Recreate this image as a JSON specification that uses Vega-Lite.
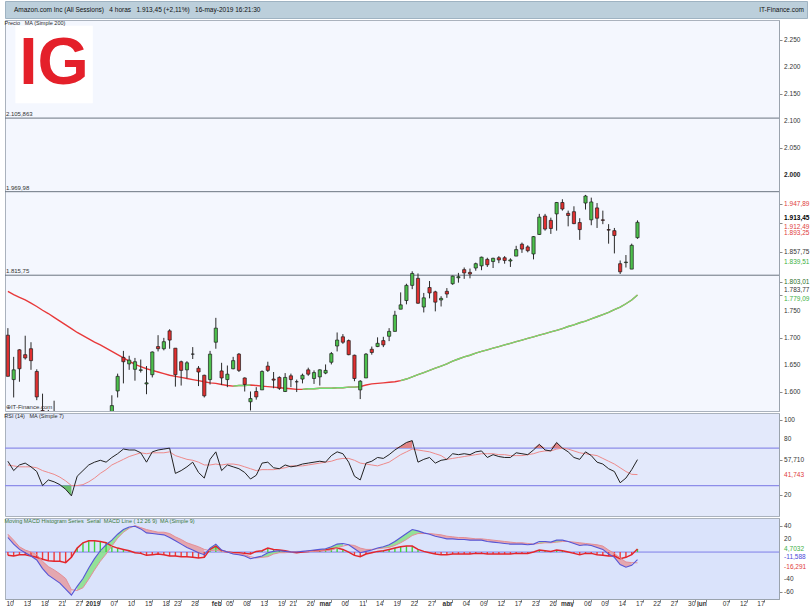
{
"$schema":"https://vega.github.io/schema/vega-lite/v6.json",
"background":"white",
"padding":{"left":3,"top":0,"right":0,"bottom":0},
"spacing":0,
"config":{"font":"Liberation Sans","view":{"stroke":"#aab2bd"},"axis":{"labelFont":"Liberation Sans","labelFontSize":6.5,"labelColor":"#333","tickColor":"#8a8a8a","domainColor":"#9aa3ad","tickSize":3,"labelPadding":2,"grid":false},"title":{"font":"Liberation Sans","fontWeight":"normal","fontSize":5.5,"anchor":"start","offset":-6,"color":"#2a2a2a"}},
"datasets":{
"bars":[
{"d":"2018-12-07","o":1705,"hi":1718,"lo":1629,"c":1629,"ma":1786,"mg":null,"rsi":56,"rma":52,"macd":22,"sig":27,"hist":-5,"seg":1},
{"d":"2018-12-10","o":1623,"hi":1665,"lo":1590,"c":1641,"ma":1780,"mg":null,"rsi":46,"rma":51,"macd":12,"sig":18,"hist":-6,"seg":1},
{"d":"2018-12-11","o":1678,"hi":1679,"lo":1619,"c":1643,"ma":1775,"mg":null,"rsi":52,"rma":50,"macd":4,"sig":8,"hist":-4,"seg":1},
{"d":"2018-12-12","o":1669,"hi":1704,"lo":1660,"c":1663,"ma":1770,"mg":null,"rsi":54,"rma":50,"macd":-1,"sig":3,"hist":-4,"seg":1},
{"d":"2018-12-13","o":1680,"hi":1692,"lo":1641,"c":1658,"ma":1764,"mg":null,"rsi":50,"rma":50,"macd":-6,"sig":0,"hist":-6,"seg":1},
{"d":"2018-12-14","o":1638,"hi":1642,"lo":1585,"c":1591,"ma":1758,"mg":null,"rsi":45,"rma":49,"macd":-12,"sig":-4,"hist":-8,"seg":1},
{"d":"2018-12-17","o":1566,"hi":1597,"lo":1503,"c":1520,"ma":1751,"mg":null,"rsi":30,"rma":46,"macd":-25,"sig":-14,"hist":-11,"seg":1},
{"d":"2018-12-18","o":1541,"hi":1567,"lo":1523,"c":1551,"ma":1745,"mg":null,"rsi":36,"rma":44,"macd":-35,"sig":-22,"hist":-13,"seg":1},
{"d":"2018-12-19","o":1543,"hi":1584,"lo":1483,"c":1495,"ma":1738,"mg":null,"rsi":34,"rma":42,"macd":-41,"sig":-27,"hist":-14,"seg":1},
{"d":"2018-12-20","o":1484,"hi":1509,"lo":1441,"c":1460,"ma":1731,"mg":null,"rsi":31,"rma":39,"macd":-47,"sig":-33,"hist":-14,"seg":1},
{"d":"2018-12-21","o":1464,"hi":1480,"lo":1363,"c":1377,"ma":1724,"mg":null,"rsi":26,"rma":35,"macd":-56,"sig":-40,"hist":-16,"seg":1},
{"d":"2018-12-24","o":1346,"hi":1396,"lo":1307,"c":1343,"ma":1717,"mg":null,"rsi":19,"rma":30,"macd":-65,"sig":-57,"hist":-8,"seg":1},
{"d":"2018-12-26","o":1369,"hi":1473,"lo":1363,"c":1470,"ma":1710,"mg":null,"rsi":40,"rma":30,"macd":-52,"sig":-58,"hist":6,"seg":2},
{"d":"2018-12-27","o":1454,"hi":1469,"lo":1390,"c":1461,"ma":1704,"mg":null,"rsi":46,"rma":31,"macd":-40,"sig":-54,"hist":14,"seg":2},
{"d":"2018-12-28","o":1474,"hi":1513,"lo":1449,"c":1478,"ma":1698,"mg":null,"rsi":52,"rma":34,"macd":-24,"sig":-41,"hist":17,"seg":2},
{"d":"2018-12-31","o":1510,"hi":1520,"lo":1487,"c":1502,"ma":1692,"mg":null,"rsi":55,"rma":38,"macd":-10,"sig":-27,"hist":17,"seg":2},
{"d":"2019-01-02","o":1466,"hi":1553,"lo":1460,"c":1540,"ma":1687,"mg":null,"rsi":57,"rma":43,"macd":2,"sig":-14,"hist":16,"seg":2},
{"d":"2019-01-03","o":1520,"hi":1538,"lo":1498,"c":1500,"ma":1681,"mg":null,"rsi":55,"rma":47,"macd":11,"sig":-3,"hist":14,"seg":2},
{"d":"2019-01-04","o":1531,"hi":1594,"lo":1518,"c":1575,"ma":1675,"mg":null,"rsi":60,"rma":52,"macd":18,"sig":9,"hist":9,"seg":2},
{"d":"2019-01-07","o":1602,"hi":1634,"lo":1590,"c":1629,"ma":1669,"mg":null,"rsi":64,"rma":55,"macd":27,"sig":21,"hist":6,"seg":2},
{"d":"2019-01-08","o":1664,"hi":1676,"lo":1616,"c":1656,"ma":1663,"mg":null,"rsi":69,"rma":58,"macd":34,"sig":30,"hist":4,"seg":2},
{"d":"2019-01-09","o":1652,"hi":1667,"lo":1641,"c":1659,"ma":1657,"mg":null,"rsi":68,"rma":61,"macd":38,"sig":36,"hist":2,"seg":2},
{"d":"2019-01-10","o":1642,"hi":1663,"lo":1621,"c":1656,"ma":1651,"mg":null,"rsi":68,"rma":63,"macd":39,"sig":40,"hist":-1,"seg":3},
{"d":"2019-01-11","o":1640,"hi":1660,"lo":1636,"c":1641,"ma":1647,"mg":null,"rsi":65,"rma":65,"macd":35,"sig":37,"hist":-2,"seg":3},
{"d":"2019-01-14","o":1615,"hi":1648,"lo":1596,"c":1617,"ma":1643,"mg":null,"rsi":55,"rma":64,"macd":29,"sig":34,"hist":-5,"seg":3},
{"d":"2019-01-15","o":1632,"hi":1675,"lo":1627,"c":1674,"ma":1640,"mg":null,"rsi":66,"rma":65,"macd":28,"sig":32,"hist":-4,"seg":3},
{"d":"2019-01-16","o":1684,"hi":1705,"lo":1675,"c":1680,"ma":1637,"mg":null,"rsi":68,"rma":65,"macd":27,"sig":30,"hist":-3,"seg":3},
{"d":"2019-01-17","o":1680,"hi":1700,"lo":1677,"c":1693,"ma":1634,"mg":null,"rsi":69,"rma":65,"macd":26,"sig":30,"hist":-4,"seg":3},
{"d":"2019-01-18","o":1713,"hi":1716,"lo":1680,"c":1696,"ma":1631,"mg":null,"rsi":70,"rma":66,"macd":22,"sig":28,"hist":-6,"seg":3},
{"d":"2019-01-22","o":1681,"hi":1681,"lo":1610,"c":1632,"ma":1629,"mg":null,"rsi":43,"rma":62,"macd":17,"sig":23,"hist":-6,"seg":3},
{"d":"2019-01-23","o":1656,"hi":1658,"lo":1612,"c":1640,"ma":1627,"mg":null,"rsi":46,"rma":60,"macd":12,"sig":19,"hist":-7,"seg":3},
{"d":"2019-01-24","o":1641,"hi":1657,"lo":1625,"c":1654,"ma":1625,"mg":null,"rsi":50,"rma":58,"macd":7,"sig":14,"hist":-7,"seg":3},
{"d":"2019-01-25","o":1670,"hi":1683,"lo":1661,"c":1670,"ma":1623,"mg":null,"rsi":55,"rma":57,"macd":3,"sig":11,"hist":-8,"seg":3},
{"d":"2019-01-28","o":1644,"hi":1648,"lo":1611,"c":1637,"ma":1621,"mg":null,"rsi":44,"rma":55,"macd":-1,"sig":8,"hist":-9,"seg":3},
{"d":"2019-01-29","o":1631,"hi":1632,"lo":1590,"c":1593,"ma":1619,"mg":null,"rsi":38,"rma":52,"macd":-4,"sig":4,"hist":-8,"seg":3},
{"d":"2019-01-30","o":1623,"hi":1676,"lo":1614,"c":1670,"ma":1617,"mg":null,"rsi":58,"rma":52,"macd":6,"sig":2,"hist":4,"seg":4},
{"d":"2019-01-31","o":1692,"hi":1737,"lo":1680,"c":1718,"ma":1616,"mg":null,"rsi":66,"rma":53,"macd":12,"sig":3,"hist":9,"seg":4},
{"d":"2019-02-01","o":1639,"hi":1654,"lo":1613,"c":1626,"ma":1614,"mg":null,"rsi":46,"rma":52,"macd":3,"sig":1,"hist":2,"seg":4},
{"d":"2019-02-04","o":1623,"hi":1649,"lo":1609,"c":1633,"ma":1612,"mg":null,"rsi":52,"rma":53,"macd":0,"sig":0,"hist":0,"seg":5},
{"d":"2019-02-05","o":1643,"hi":1665,"lo":1642,"c":1658,"ma":1611,"mg":1611,"rsi":50,"rma":53,"macd":-3,"sig":-2,"hist":-1,"seg":5},
{"d":"2019-02-06","o":1670,"hi":1672,"lo":1637,"c":1640,"ma":1612,"mg":1612,"rsi":48,"rma":52,"macd":-4,"sig":-3,"hist":-1,"seg":5},
{"d":"2019-02-07","o":1626,"hi":1627,"lo":1601,"c":1614,"ma":1612,"mg":1612,"rsi":44,"rma":50,"macd":-6,"sig":-4,"hist":-2,"seg":5},
{"d":"2019-02-08","o":1582,"hi":1601,"lo":1566,"c":1588,"ma":1613,"mg":1613,"rsi":37,"rma":48,"macd":-10,"sig":-7,"hist":-3,"seg":5},
{"d":"2019-02-11","o":1601,"hi":1609,"lo":1586,"c":1591,"ma":1612,"mg":null,"rsi":41,"rma":46,"macd":-8,"sig":-9,"hist":1,"seg":6},
{"d":"2019-02-12","o":1604,"hi":1640,"lo":1604,"c":1638,"ma":1611,"mg":null,"rsi":54,"rma":47,"macd":-6,"sig":-8,"hist":2,"seg":6},
{"d":"2019-02-13","o":1648,"hi":1656,"lo":1637,"c":1640,"ma":1610,"mg":null,"rsi":55,"rma":47,"macd":-1,"sig":-7,"hist":6,"seg":6},
{"d":"2019-02-14","o":1624,"hi":1637,"lo":1607,"c":1622,"ma":1609,"mg":null,"rsi":49,"rma":47,"macd":1,"sig":-3,"hist":4,"seg":6},
{"d":"2019-02-15","o":1627,"hi":1629,"lo":1604,"c":1607,"ma":1608,"mg":null,"rsi":48,"rma":48,"macd":2,"sig":-1,"hist":3,"seg":6},
{"d":"2019-02-19","o":1601,"hi":1635,"lo":1600,"c":1627,"ma":1607,"mg":null,"rsi":52,"rma":49,"macd":1,"sig":-1,"hist":2,"seg":6},
{"d":"2019-02-20","o":1630,"hi":1634,"lo":1609,"c":1623,"ma":1606,"mg":null,"rsi":50,"rma":51,"macd":0,"sig":0,"hist":0,"seg":7},
{"d":"2019-02-21","o":1619,"hi":1623,"lo":1600,"c":1619,"ma":1605,"mg":null,"rsi":51,"rma":51,"macd":0,"sig":1,"hist":-1,"seg":7},
{"d":"2019-02-22","o":1624,"hi":1634,"lo":1616,"c":1631,"ma":1605,"mg":1605,"rsi":53,"rma":51,"macd":1,"sig":1,"hist":0,"seg":7},
{"d":"2019-02-25","o":1641,"hi":1645,"lo":1630,"c":1633,"ma":1606,"mg":1606,"rsi":54,"rma":52,"macd":2,"sig":1,"hist":1,"seg":8},
{"d":"2019-02-26","o":1625,"hi":1640,"lo":1615,"c":1636,"ma":1606,"mg":1606,"rsi":55,"rma":53,"macd":3,"sig":1,"hist":2,"seg":8},
{"d":"2019-02-27","o":1628,"hi":1642,"lo":1612,"c":1641,"ma":1607,"mg":1607,"rsi":56,"rma":54,"macd":4,"sig":2,"hist":2,"seg":8},
{"d":"2019-02-28","o":1635,"hi":1651,"lo":1633,"c":1640,"ma":1607,"mg":1607,"rsi":55,"rma":55,"macd":5,"sig":2,"hist":3,"seg":8},
{"d":"2019-03-01","o":1655,"hi":1674,"lo":1651,"c":1671,"ma":1607,"mg":1607,"rsi":62,"rma":56,"macd":8,"sig":3,"hist":5,"seg":8},
{"d":"2019-03-04","o":1685,"hi":1710,"lo":1675,"c":1696,"ma":1608,"mg":1608,"rsi":66,"rma":58,"macd":12,"sig":6,"hist":6,"seg":8},
{"d":"2019-03-05","o":1702,"hi":1707,"lo":1689,"c":1692,"ma":1608,"mg":1608,"rsi":64,"rma":59,"macd":13,"sig":9,"hist":4,"seg":8},
{"d":"2019-03-06","o":1695,"hi":1697,"lo":1668,"c":1669,"ma":1609,"mg":1609,"rsi":55,"rma":59,"macd":11,"sig":11,"hist":0,"seg":9},
{"d":"2019-03-07","o":1668,"hi":1669,"lo":1620,"c":1625,"ma":1609,"mg":1609,"rsi":40,"rma":57,"macd":5,"sig":10,"hist":-5,"seg":9},
{"d":"2019-03-08","o":1604,"hi":1622,"lo":1587,"c":1620,"ma":1610,"mg":1610,"rsi":36,"rma":54,"macd":-1,"sig":6,"hist":-7,"seg":9},
{"d":"2019-03-11","o":1626,"hi":1672,"lo":1626,"c":1670,"ma":1613,"mg":null,"rsi":54,"rma":53,"macd":1,"sig":4,"hist":-3,"seg":9},
{"d":"2019-03-12","o":1679,"hi":1684,"lo":1669,"c":1673,"ma":1615,"mg":null,"rsi":56,"rma":52,"macd":3,"sig":4,"hist":-1,"seg":9},
{"d":"2019-03-13","o":1684,"hi":1701,"lo":1683,"c":1690,"ma":1616,"mg":null,"rsi":60,"rma":51,"macd":6,"sig":5,"hist":1,"seg":10},
{"d":"2019-03-14","o":1695,"hi":1702,"lo":1683,"c":1687,"ma":1617,"mg":null,"rsi":59,"rma":53,"macd":8,"sig":6,"hist":2,"seg":10},
{"d":"2019-03-15","o":1703,"hi":1718,"lo":1694,"c":1712,"ma":1618,"mg":null,"rsi":63,"rma":55,"macd":11,"sig":7,"hist":4,"seg":10},
{"d":"2019-03-18","o":1712,"hi":1750,"lo":1712,"c":1742,"ma":1619,"mg":null,"rsi":68,"rma":59,"macd":16,"sig":10,"hist":6,"seg":10},
{"d":"2019-03-19","o":1753,"hi":1784,"lo":1753,"c":1761,"ma":1621,"mg":1621,"rsi":72,"rma":63,"macd":22,"sig":14,"hist":8,"seg":10},
{"d":"2019-03-20","o":1769,"hi":1800,"lo":1762,"c":1797,"ma":1624,"mg":1624,"rsi":76,"rma":66,"macd":28,"sig":19,"hist":9,"seg":10},
{"d":"2019-03-21","o":1797,"hi":1823,"lo":1790,"c":1819,"ma":1628,"mg":1628,"rsi":78,"rma":69,"macd":34,"sig":25,"hist":9,"seg":10},
{"d":"2019-03-22","o":1810,"hi":1819,"lo":1763,"c":1764,"ma":1632,"mg":1632,"rsi":55,"rma":68,"macd":32,"sig":28,"hist":4,"seg":10},
{"d":"2019-03-25","o":1757,"hi":1783,"lo":1747,"c":1774,"ma":1636,"mg":1636,"rsi":58,"rma":67,"macd":29,"sig":28,"hist":1,"seg":10},
{"d":"2019-03-26","o":1793,"hi":1805,"lo":1773,"c":1783,"ma":1640,"mg":1640,"rsi":60,"rma":66,"macd":27,"sig":28,"hist":-1,"seg":11},
{"d":"2019-03-27","o":1785,"hi":1787,"lo":1749,"c":1766,"ma":1644,"mg":1644,"rsi":54,"rma":64,"macd":24,"sig":27,"hist":-3,"seg":11},
{"d":"2019-03-28","o":1770,"hi":1777,"lo":1758,"c":1773,"ma":1648,"mg":1648,"rsi":57,"rma":62,"macd":22,"sig":26,"hist":-4,"seg":11},
{"d":"2019-03-29","o":1786,"hi":1792,"lo":1774,"c":1781,"ma":1652,"mg":1652,"rsi":58,"rma":58,"macd":20,"sig":24,"hist":-4,"seg":11},
{"d":"2019-04-01","o":1800,"hi":1815,"lo":1798,"c":1814,"ma":1657,"mg":1657,"rsi":64,"rma":59,"macd":20,"sig":23,"hist":-3,"seg":11},
{"d":"2019-04-02","o":1811,"hi":1820,"lo":1802,"c":1813,"ma":1661,"mg":1661,"rsi":63,"rma":60,"macd":19,"sig":22,"hist":-3,"seg":11},
{"d":"2019-04-03","o":1826,"hi":1830,"lo":1809,"c":1820,"ma":1665,"mg":1665,"rsi":64,"rma":61,"macd":19,"sig":22,"hist":-3,"seg":11},
{"d":"2019-04-04","o":1821,"hi":1828,"lo":1810,"c":1818,"ma":1668,"mg":1668,"rsi":63,"rma":62,"macd":18,"sig":21,"hist":-3,"seg":11},
{"d":"2019-04-05","o":1829,"hi":1839,"lo":1824,"c":1837,"ma":1672,"mg":1672,"rsi":66,"rma":63,"macd":18,"sig":20,"hist":-2,"seg":11},
{"d":"2019-04-08","o":1833,"hi":1850,"lo":1825,"c":1849,"ma":1675,"mg":1675,"rsi":67,"rma":64,"macd":18,"sig":20,"hist":-2,"seg":11},
{"d":"2019-04-09","o":1845,"hi":1848,"lo":1831,"c":1835,"ma":1678,"mg":1678,"rsi":60,"rma":64,"macd":16,"sig":19,"hist":-3,"seg":11},
{"d":"2019-04-10","o":1841,"hi":1848,"lo":1829,"c":1847,"ma":1681,"mg":1681,"rsi":63,"rma":64,"macd":15,"sig":18,"hist":-3,"seg":11},
{"d":"2019-04-11","o":1848,"hi":1851,"lo":1838,"c":1844,"ma":1684,"mg":1684,"rsi":61,"rma":63,"macd":14,"sig":17,"hist":-3,"seg":11},
{"d":"2019-04-12","o":1848,"hi":1851,"lo":1837,"c":1843,"ma":1687,"mg":1687,"rsi":60,"rma":63,"macd":13,"sig":16,"hist":-3,"seg":11},
{"d":"2019-04-15","o":1842,"hi":1847,"lo":1831,"c":1844,"ma":1690,"mg":1690,"rsi":60,"rma":62,"macd":12,"sig":15,"hist":-3,"seg":11},
{"d":"2019-04-16","o":1851,"hi":1870,"lo":1851,"c":1863,"ma":1693,"mg":1693,"rsi":65,"rma":62,"macd":12,"sig":14,"hist":-2,"seg":11},
{"d":"2019-04-17","o":1873,"hi":1876,"lo":1857,"c":1864,"ma":1696,"mg":1696,"rsi":64,"rma":62,"macd":12,"sig":14,"hist":-2,"seg":11},
{"d":"2019-04-18","o":1868,"hi":1871,"lo":1858,"c":1861,"ma":1699,"mg":1699,"rsi":63,"rma":63,"macd":11,"sig":13,"hist":-2,"seg":11},
{"d":"2019-04-22","o":1855,"hi":1888,"lo":1845,"c":1887,"ma":1702,"mg":1702,"rsi":68,"rma":64,"macd":12,"sig":12,"hist":0,"seg":11},
{"d":"2019-04-23","o":1891,"hi":1929,"lo":1890,"c":1923,"ma":1705,"mg":1705,"rsi":74,"rma":66,"macd":16,"sig":13,"hist":3,"seg":12},
{"d":"2019-04-24","o":1925,"hi":1929,"lo":1898,"c":1901,"ma":1708,"mg":1708,"rsi":68,"rma":67,"macd":16,"sig":14,"hist":2,"seg":12},
{"d":"2019-04-25","o":1917,"hi":1922,"lo":1892,"c":1902,"ma":1711,"mg":1711,"rsi":67,"rma":67,"macd":15,"sig":14,"hist":1,"seg":12},
{"d":"2019-04-26","o":1929,"hi":1951,"lo":1898,"c":1950,"ma":1714,"mg":1714,"rsi":76,"rma":69,"macd":18,"sig":15,"hist":3,"seg":12},
{"d":"2019-04-29","o":1950,"hi":1956,"lo":1935,"c":1938,"ma":1717,"mg":1717,"rsi":70,"rma":70,"macd":18,"sig":16,"hist":2,"seg":12},
{"d":"2019-04-30","o":1930,"hi":1935,"lo":1906,"c":1926,"ma":1721,"mg":1721,"rsi":66,"rma":69,"macd":16,"sig":16,"hist":0,"seg":13},
{"d":"2019-05-01","o":1933,"hi":1943,"lo":1910,"c":1911,"ma":1724,"mg":1724,"rsi":60,"rma":67,"macd":13,"sig":15,"hist":-2,"seg":13},
{"d":"2019-05-02","o":1913,"hi":1921,"lo":1881,"c":1900,"ma":1728,"mg":1728,"rsi":58,"rma":65,"macd":10,"sig":14,"hist":-4,"seg":13},
{"d":"2019-05-03","o":1949,"hi":1964,"lo":1937,"c":1962,"ma":1731,"mg":1731,"rsi":66,"rma":64,"macd":11,"sig":13,"hist":-2,"seg":13},
{"d":"2019-05-06","o":1918,"hi":1959,"lo":1908,"c":1951,"ma":1735,"mg":1735,"rsi":62,"rma":63,"macd":10,"sig":12,"hist":-2,"seg":13},
{"d":"2019-05-07","o":1940,"hi":1949,"lo":1903,"c":1921,"ma":1739,"mg":1739,"rsi":55,"rma":62,"macd":7,"sig":11,"hist":-4,"seg":13},
{"d":"2019-05-08","o":1918,"hi":1935,"lo":1910,"c":1917,"ma":1743,"mg":1743,"rsi":53,"rma":59,"macd":4,"sig":9,"hist":-5,"seg":13},
{"d":"2019-05-09","o":1900,"hi":1910,"lo":1874,"c":1899,"ma":1747,"mg":1747,"rsi":48,"rma":56,"macd":-3,"sig":3,"hist":-6,"seg":13},
{"d":"2019-05-10","o":1898,"hi":1903,"lo":1856,"c":1889,"ma":1752,"mg":1752,"rsi":45,"rma":53,"macd":-8,"sig":-2,"hist":-6,"seg":13},
{"d":"2019-05-13","o":1837,"hi":1843,"lo":1818,"c":1822,"ma":1757,"mg":1757,"rsi":33,"rma":49,"macd":-19,"sig":-9,"hist":-10,"seg":13},
{"d":"2019-05-14","o":1839,"hi":1853,"lo":1830,"c":1840,"ma":1763,"mg":1763,"rsi":38,"rma":45,"macd":-23,"sig":-15,"hist":-8,"seg":13},
{"d":"2019-05-15","o":1827,"hi":1874,"lo":1827,"c":1871,"ma":1770,"mg":1770,"rsi":47,"rma":42,"macd":-20,"sig":-16,"hist":-4,"seg":13},
{"d":"2019-05-16","o":1885,"hi":1917,"lo":1883,"c":1913.45,"ma":1779.09,"mg":1779.09,"rsi":57.71,"rma":41.743,"macd":-11.588,"sig":-16.291,"hist":4.7032,"seg":14}
],
"rsif":[
{"d":"2018-12-20","v":30,"b":30,"g":"a"},{"d":"2018-12-21","v":26,"b":30,"g":"a"},{"d":"2018-12-24","v":19,"b":30,"g":"a"},
{"d":"2019-03-18","v":70,"b":70,"g":"b"},{"d":"2019-03-19","v":72,"b":70,"g":"b"},{"d":"2019-03-20","v":76,"b":70,"g":"b"},{"d":"2019-03-21","v":78,"b":70,"g":"b"},
{"d":"2019-04-22","v":70,"b":70,"g":"c"},{"d":"2019-04-23","v":74,"b":70,"g":"c"},{"d":"2019-04-24","v":70,"b":70,"g":"c"},
{"d":"2019-04-25","v":70,"b":70,"g":"d"},{"d":"2019-04-26","v":76,"b":70,"g":"d"},{"d":"2019-04-29","v":70,"b":70,"g":"d"}
],
"ylab":[
{"p":"price","d":"2019-06-19","v":2250,"t":"2.250","k":"n"},
{"p":"price","d":"2019-06-19","v":2200,"t":"2.200","k":"n"},
{"p":"price","d":"2019-06-19","v":2150,"t":"2.150","k":"n"},
{"p":"price","d":"2019-06-19","v":2100,"t":"2.100","k":"n"},
{"p":"price","d":"2019-06-19","v":2050,"t":"2.050","k":"n"},
{"p":"price","d":"2019-06-19","v":2000,"t":"2.000","k":"n"},
{"p":"price","d":"2019-06-19","v":1947.89,"t":"1.947,89","k":"r"},
{"p":"price","d":"2019-06-19","v":1913.45,"t":"1.913,45","k":"cur"},
{"p":"price","d":"2019-06-19","v":1912.49,"t":"1.912,49","k":"r"},
{"p":"price","d":"2019-06-19","v":1893.25,"t":"1.893,25","k":"r"},
{"p":"price","d":"2019-06-19","v":1857.75,"t":"1.857,75","k":"n"},
{"p":"price","d":"2019-06-19","v":1839.51,"t":"1.839,51","k":"g"},
{"p":"price","d":"2019-06-19","v":1803.01,"t":"1.803,01","k":"dg"},
{"p":"price","d":"2019-06-19","v":1783.77,"t":"1.783,77","k":"n"},
{"p":"price","d":"2019-06-19","v":1779.09,"t":"1.779,09","k":"g"},
{"p":"price","d":"2019-06-19","v":1750,"t":"1.750","k":"n"},
{"p":"price","d":"2019-06-19","v":1700,"t":"1.700","k":"n"},
{"p":"price","d":"2019-06-19","v":1650,"t":"1.650","k":"n"},
{"p":"price","d":"2019-06-19","v":1600,"t":"1.600","k":"n"},
{"p":"rsi","d":"2019-06-19","v":100,"t":"100","k":"n"},
{"p":"rsi","d":"2019-06-19","v":80,"t":"80","k":"n"},
{"p":"rsi","d":"2019-06-19","v":57.71,"t":"57,710","k":"n"},
{"p":"rsi","d":"2019-06-19","v":41.743,"t":"41,743","k":"r"},
{"p":"rsi","d":"2019-06-19","v":20,"t":"20","k":"n"},
{"p":"macd","d":"2019-06-19","v":40,"t":"40","k":"n"},
{"p":"macd","d":"2019-06-19","v":20,"t":"20","k":"n"},
{"p":"macd","d":"2019-06-19","v":4.7032,"t":"4,7032","k":"g"},
{"p":"macd","d":"2019-06-19","v":-11.588,"t":"-11,588","k":"b"},
{"p":"macd","d":"2019-06-19","v":-16.291,"t":"-16,291","k":"r"},
{"p":"macd","d":"2019-06-19","v":-40,"t":"-40","k":"n"},
{"p":"macd","d":"2019-06-19","v":-60,"t":"-60","k":"n"}
]
},
"vconcat":[
{
"width":802,"height":17,
"view":{"fill":"#bccfdb","stroke":"#9fb3c2"},
"data":{"values":[{"k":"l","t":"Amazon.com Inc (All Sessions)\u00a0\u00a0\u00a04 horas\u00a0\u00a0\u00a01.913,45 (+2,11%)\u00a0\u00a0\u00a016-may-2019 16:21:30"},{"k":"r","t":"IT-Finance.com"}]},
"layer":[
{"transform":[{"filter":"datum.k == 'l'"}],"mark":{"type":"text","align":"left","baseline":"middle","dx":9,"fontSize":6.5,"color":"#111"},
"encoding":{"x":{"field":"k","type":"nominal","scale":{"type":"point","domain":["l","r"],"padding":0},"axis":null},"text":{"field":"t"}}},
{"transform":[{"filter":"datum.k == 'r'"}],"mark":{"type":"text","align":"right","baseline":"middle","dx":-3,"fontSize":6.5,"color":"#111"},
"encoding":{"x":{"field":"k","type":"nominal","scale":{"type":"point","domain":["l","r"],"padding":0},"axis":null},"text":{"field":"t"}}}
]
},
{
"width":774,"height":391,
"title":{"text":"Precio\u00a0\u00a0\u00a0MA (Simple 200)"},
"view":{"fill":"#f4f7fe"},
"data":{"name":"bars"},
"layer":[
{"data":{"values":[{"d":"2018-12-19","v":2205,"t":"IG"}]},"mark":{"type":"point","shape":"square","filled":true,"color":"white","opacity":1,"size":6000},
"encoding":{"x":{"field":"d","type":"ordinal","scale":{"type":"band","paddingInner":0,"paddingOuter":0},"axis":null},"y":{"field":"v","type":"quantitative"}}},
{"data":{"values":[{"d":"2018-12-19","v":2205,"t":"IG"}]},"mark":{"type":"text","fontSize":66,"fontWeight":"bold","color":"#e4202a","align":"center","baseline":"middle"},
"encoding":{"x":{"field":"d","type":"ordinal","scale":{"type":"band","paddingInner":0,"paddingOuter":0},"axis":null},"y":{"field":"v","type":"quantitative"},"text":{"field":"t"}}},
{"data":{"values":[{"v":2105.863},{"v":1969.98},{"v":1815.75}]},
"mark":{"type":"rule","color":"#6b7480","strokeWidth":1},
"encoding":{"y":{"field":"v","type":"quantitative"}}},
{"data":{"values":[{"d":"2018-12-07","v":2105.863,"t":"2.105,863"},{"d":"2018-12-07","v":1969.98,"t":"1.969,98"},{"d":"2018-12-07","v":1815.75,"t":"1.815,75"},{"d":"2018-12-07","v":1565,"t":"⊕IT-Finance.com"}]},
"mark":{"type":"text","align":"left","baseline":"bottom","dx":-2,"dy":-1,"fontSize":6,"color":"#333"},
"encoding":{"x":{"field":"d","type":"ordinal","scale":{"type":"band","paddingInner":0,"paddingOuter":0},"axis":null},"y":{"field":"v","type":"quantitative"},"text":{"field":"t"}}},
{"mark":{"type":"line","color":"#e8393a","strokeWidth":1.4,"clip":true},
"encoding":{"x":{"field":"d","type":"ordinal","scale":{"type":"band","paddingInner":0,"paddingOuter":0},"axis":null},"y":{"field":"ma","type":"quantitative"}}},
{"mark":{"type":"line","color":"#72dc72","strokeWidth":1.4,"clip":true},
"encoding":{"x":{"field":"d","type":"ordinal","scale":{"type":"band","paddingInner":0,"paddingOuter":0},"axis":null},"y":{"field":"mg","type":"quantitative"}}},
{"mark":{"type":"rule","color":"#2a2a2a","strokeWidth":1,"clip":true},
"encoding":{"x":{"field":"d","type":"ordinal","scale":{"type":"band","paddingInner":0,"paddingOuter":0},"axis":null},"y":{"field":"lo","type":"quantitative"},"y2":{"field":"hi"}}},
{"mark":{"type":"bar","width":3.2,"stroke":"#1c1c1c","strokeWidth":0.7,"clip":true},
"encoding":{
"x":{"field":"d","type":"ordinal","axis":null,"scale":{"type":"band","paddingInner":0,"paddingOuter":0,"domain":["2018-12-07","2018-12-10","2018-12-11","2018-12-12","2018-12-13","2018-12-14","2018-12-17","2018-12-18","2018-12-19","2018-12-20","2018-12-21","2018-12-24","2018-12-26","2018-12-27","2018-12-28","2018-12-31","2019-01-02","2019-01-03","2019-01-04","2019-01-07","2019-01-08","2019-01-09","2019-01-10","2019-01-11","2019-01-14","2019-01-15","2019-01-16","2019-01-17","2019-01-18","2019-01-22","2019-01-23","2019-01-24","2019-01-25","2019-01-28","2019-01-29","2019-01-30","2019-01-31","2019-02-01","2019-02-04","2019-02-05","2019-02-06","2019-02-07","2019-02-08","2019-02-11","2019-02-12","2019-02-13","2019-02-14","2019-02-15","2019-02-19","2019-02-20","2019-02-21","2019-02-22","2019-02-25","2019-02-26","2019-02-27","2019-02-28","2019-03-01","2019-03-04","2019-03-05","2019-03-06","2019-03-07","2019-03-08","2019-03-11","2019-03-12","2019-03-13","2019-03-14","2019-03-15","2019-03-18","2019-03-19","2019-03-20","2019-03-21","2019-03-22","2019-03-25","2019-03-26","2019-03-27","2019-03-28","2019-03-29","2019-04-01","2019-04-02","2019-04-03","2019-04-04","2019-04-05","2019-04-08","2019-04-09","2019-04-10","2019-04-11","2019-04-12","2019-04-15","2019-04-16","2019-04-17","2019-04-18","2019-04-22","2019-04-23","2019-04-24","2019-04-25","2019-04-26","2019-04-29","2019-04-30","2019-05-01","2019-05-02","2019-05-03","2019-05-06","2019-05-07","2019-05-08","2019-05-09","2019-05-10","2019-05-13","2019-05-14","2019-05-15","2019-05-16","2019-05-17","2019-05-20","2019-05-21","2019-05-22","2019-05-23","2019-05-24","2019-05-27","2019-05-28","2019-05-29","2019-05-30","2019-05-31","2019-06-03","2019-06-04","2019-06-05","2019-06-06","2019-06-07","2019-06-10","2019-06-11","2019-06-12","2019-06-13","2019-06-14","2019-06-17","2019-06-18","2019-06-19"]}},
"y":{"field":"o","type":"quantitative","scale":{"domain":[1565,2287],"nice":false,"zero":false},
"axis":{"orient":"right","title":null,"labels":false,"values":[1600,1650,1700,1750,1779.09,1783.77,1803.01,1839.51,1857.75,1893.25,1912.49,1913.45,1947.89,2000,2050,2100,2150,2200,2250]}},
"y2":{"field":"c"},
"fill":{"condition":{"test":"datum.c >= datum.o","value":"#4cc04c"},"value":"#e03030"}}},
{"data":{"name":"ylab"},"transform":[{"filter":"datum.p == 'price' && datum.v != 1913.45 && datum.v != 1912.49 && datum.v != 1783.77 && datum.v != 1779.09 && datum.v != 2000"}],
"mark":{"type":"text","align":"left","baseline":"middle","dx":8,"fontSize":6.5},
"encoding":{"x":{"field":"d","type":"ordinal","scale":{"type":"band","paddingInner":0,"paddingOuter":0},"axis":null},"y":{"field":"v","type":"quantitative"},"text":{"field":"t"},
"color":{"field":"k","type":"nominal","legend":null,"scale":{"domain":["n","r","g","dg","cur","b"],"range":["#333333","#e03c3c","#3cb043","#2a6e2a","#000000","#4a4ad8"]}}}},
{"data":{"name":"ylab"},"transform":[{"filter":"datum.p == 'price' && datum.v == 2000"}],
"mark":{"type":"text","align":"left","baseline":"middle","dx":8,"fontSize":6.5,"fontWeight":"bold","color":"#222"},
"encoding":{"x":{"field":"d","type":"ordinal","scale":{"type":"band","paddingInner":0,"paddingOuter":0},"axis":null},"y":{"field":"v","type":"quantitative"},"text":{"field":"t"}}},
{"data":{"name":"ylab"},"transform":[{"filter":"datum.p == 'price' && datum.v == 1913.45"}],
"mark":{"type":"text","align":"left","baseline":"bottom","dx":8,"dy":-1,"fontSize":6.5,"fontWeight":"bold","color":"#000"},
"encoding":{"x":{"field":"d","type":"ordinal","scale":{"type":"band","paddingInner":0,"paddingOuter":0},"axis":null},"y":{"field":"v","type":"quantitative"},"text":{"field":"t"}}},
{"data":{"name":"ylab"},"transform":[{"filter":"datum.p == 'price' && (datum.v == 1912.49 || datum.v == 1779.09)"}],
"mark":{"type":"text","align":"left","baseline":"top","dx":8,"dy":1,"fontSize":6.5},
"encoding":{"x":{"field":"d","type":"ordinal","scale":{"type":"band","paddingInner":0,"paddingOuter":0},"axis":null},"y":{"field":"v","type":"quantitative"},"text":{"field":"t"},
"color":{"field":"k","type":"nominal","legend":null,"scale":{"domain":["n","r","g","dg","cur","b"],"range":["#333333","#e03c3c","#3cb043","#2a6e2a","#000000","#4a4ad8"]}}}},
{"data":{"name":"ylab"},"transform":[{"filter":"datum.p == 'price' && datum.v == 1783.77"}],
"mark":{"type":"text","align":"left","baseline":"bottom","dx":8,"dy":0,"fontSize":6.5,"color":"#333"},
"encoding":{"x":{"field":"d","type":"ordinal","scale":{"type":"band","paddingInner":0,"paddingOuter":0},"axis":null},"y":{"field":"v","type":"quantitative"},"text":{"field":"t"}}}
]
},
{
"width":774,"height":103,
"title":{"text":"RSI (14)\u00a0\u00a0\u00a0MA (Simple 7)"},
"view":{"fill":"#e3e9fb"},
"data":{"name":"bars"},
"layer":[
{"data":{"values":[{"v":70},{"v":30}]},"mark":{"type":"rule","color":"#8d8de9","strokeWidth":1.3},
"encoding":{"y":{"field":"v","type":"quantitative"}}},
{"data":{"name":"rsif"},"mark":{"type":"area","opacity":0.9},
"encoding":{"x":{"field":"d","type":"ordinal","scale":{"type":"band","paddingInner":0,"paddingOuter":0},"axis":null},"y":{"field":"v","type":"quantitative"},"y2":{"field":"b"},"detail":{"field":"g","type":"nominal"},
"fill":{"condition":{"test":"datum.b == 30","value":"#5cb85c"},"value":"#e07a7a"}}},
{"mark":{"type":"line","color":"#ee8a8a","strokeWidth":1},
"encoding":{"x":{"field":"d","type":"ordinal","scale":{"type":"band","paddingInner":0,"paddingOuter":0},"axis":null},"y":{"field":"rma","type":"quantitative"}}},
{"mark":{"type":"line","color":"#222","strokeWidth":1},
"encoding":{"x":{"field":"d","type":"ordinal","axis":null,"scale":{"type":"band","paddingInner":0,"paddingOuter":0,"domain":["2018-12-07","2018-12-10","2018-12-11","2018-12-12","2018-12-13","2018-12-14","2018-12-17","2018-12-18","2018-12-19","2018-12-20","2018-12-21","2018-12-24","2018-12-26","2018-12-27","2018-12-28","2018-12-31","2019-01-02","2019-01-03","2019-01-04","2019-01-07","2019-01-08","2019-01-09","2019-01-10","2019-01-11","2019-01-14","2019-01-15","2019-01-16","2019-01-17","2019-01-18","2019-01-22","2019-01-23","2019-01-24","2019-01-25","2019-01-28","2019-01-29","2019-01-30","2019-01-31","2019-02-01","2019-02-04","2019-02-05","2019-02-06","2019-02-07","2019-02-08","2019-02-11","2019-02-12","2019-02-13","2019-02-14","2019-02-15","2019-02-19","2019-02-20","2019-02-21","2019-02-22","2019-02-25","2019-02-26","2019-02-27","2019-02-28","2019-03-01","2019-03-04","2019-03-05","2019-03-06","2019-03-07","2019-03-08","2019-03-11","2019-03-12","2019-03-13","2019-03-14","2019-03-15","2019-03-18","2019-03-19","2019-03-20","2019-03-21","2019-03-22","2019-03-25","2019-03-26","2019-03-27","2019-03-28","2019-03-29","2019-04-01","2019-04-02","2019-04-03","2019-04-04","2019-04-05","2019-04-08","2019-04-09","2019-04-10","2019-04-11","2019-04-12","2019-04-15","2019-04-16","2019-04-17","2019-04-18","2019-04-22","2019-04-23","2019-04-24","2019-04-25","2019-04-26","2019-04-29","2019-04-30","2019-05-01","2019-05-02","2019-05-03","2019-05-06","2019-05-07","2019-05-08","2019-05-09","2019-05-10","2019-05-13","2019-05-14","2019-05-15","2019-05-16","2019-05-17","2019-05-20","2019-05-21","2019-05-22","2019-05-23","2019-05-24","2019-05-27","2019-05-28","2019-05-29","2019-05-30","2019-05-31","2019-06-03","2019-06-04","2019-06-05","2019-06-06","2019-06-07","2019-06-10","2019-06-11","2019-06-12","2019-06-13","2019-06-14","2019-06-17","2019-06-18","2019-06-19"]}},
"y":{"field":"rsi","type":"quantitative","scale":{"domain":[-2.5,107.5],"nice":false,"zero":false},
"axis":{"orient":"right","title":null,"labels":false,"values":[20,41.743,57.71,80,100]}}}},
{"data":{"name":"ylab"},"transform":[{"filter":"datum.p == 'rsi'"}],
"mark":{"type":"text","align":"left","baseline":"middle","dx":8,"fontSize":6.5},
"encoding":{"x":{"field":"d","type":"ordinal","scale":{"type":"band","paddingInner":0,"paddingOuter":0},"axis":null},"y":{"field":"v","type":"quantitative"},"text":{"field":"t"},
"color":{"field":"k","type":"nominal","legend":null,"scale":{"domain":["n","r","g","dg","cur","b"],"range":["#333333","#e03c3c","#3cb043","#2a6e2a","#000000","#4a4ad8"]}}}}
]
},
{
"width":774,"height":81,
"title":{"text":"Moving MACD Histogram Series\u00a0\u00a0Serial\u00a0\u00a0MACD Line ( 12 26 9)\u00a0\u00a0MA (Simple 9)","color":"#3a7a3a"},
"view":{"fill":"#dae3fb"},
"data":{"name":"bars"},
"layer":[
{"data":{"values":[{"v":0}]},"mark":{"type":"rule","color":"#7f7fe8","strokeWidth":1},
"encoding":{"y":{"field":"v","type":"quantitative"}}},
{"mark":{"type":"area","opacity":0.85},
"encoding":{"x":{"field":"d","type":"ordinal","scale":{"type":"band","paddingInner":0,"paddingOuter":0}},"y":{"field":"macd","type":"quantitative"},"y2":{"field":"sig"},"detail":{"field":"seg","type":"nominal"},
"fill":{"condition":{"test":"datum.hist > 0","value":"#86e086"},"value":"#e59ca2"}}},
{"mark":{"type":"bar","width":1.4},
"encoding":{"x":{"field":"d","type":"ordinal","scale":{"type":"band","paddingInner":0,"paddingOuter":0}},"y":{"field":"hist","type":"quantitative"},
"color":{"condition":{"test":"datum.hist > 0","value":"#3ed43e"},"value":"#f03a3a"}}},
{"mark":{"type":"line","color":"#e3262c","strokeWidth":1.5},
"encoding":{"x":{"field":"d","type":"ordinal","scale":{"type":"band","paddingInner":0,"paddingOuter":0}},"y":{"field":"hist","type":"quantitative"}}},
{"mark":{"type":"line","color":"#e48e96","strokeWidth":1},
"encoding":{"x":{"field":"d","type":"ordinal","scale":{"type":"band","paddingInner":0,"paddingOuter":0}},"y":{"field":"sig","type":"quantitative"}}},
{"mark":{"type":"line","color":"#5656d6","strokeWidth":1.1},
"encoding":{
"x":{"field":"d","type":"ordinal",
"scale":{"type":"band","paddingInner":0,"paddingOuter":0,"domain":["2018-12-07","2018-12-10","2018-12-11","2018-12-12","2018-12-13","2018-12-14","2018-12-17","2018-12-18","2018-12-19","2018-12-20","2018-12-21","2018-12-24","2018-12-26","2018-12-27","2018-12-28","2018-12-31","2019-01-02","2019-01-03","2019-01-04","2019-01-07","2019-01-08","2019-01-09","2019-01-10","2019-01-11","2019-01-14","2019-01-15","2019-01-16","2019-01-17","2019-01-18","2019-01-22","2019-01-23","2019-01-24","2019-01-25","2019-01-28","2019-01-29","2019-01-30","2019-01-31","2019-02-01","2019-02-04","2019-02-05","2019-02-06","2019-02-07","2019-02-08","2019-02-11","2019-02-12","2019-02-13","2019-02-14","2019-02-15","2019-02-19","2019-02-20","2019-02-21","2019-02-22","2019-02-25","2019-02-26","2019-02-27","2019-02-28","2019-03-01","2019-03-04","2019-03-05","2019-03-06","2019-03-07","2019-03-08","2019-03-11","2019-03-12","2019-03-13","2019-03-14","2019-03-15","2019-03-18","2019-03-19","2019-03-20","2019-03-21","2019-03-22","2019-03-25","2019-03-26","2019-03-27","2019-03-28","2019-03-29","2019-04-01","2019-04-02","2019-04-03","2019-04-04","2019-04-05","2019-04-08","2019-04-09","2019-04-10","2019-04-11","2019-04-12","2019-04-15","2019-04-16","2019-04-17","2019-04-18","2019-04-22","2019-04-23","2019-04-24","2019-04-25","2019-04-26","2019-04-29","2019-04-30","2019-05-01","2019-05-02","2019-05-03","2019-05-06","2019-05-07","2019-05-08","2019-05-09","2019-05-10","2019-05-13","2019-05-14","2019-05-15","2019-05-16","2019-05-17","2019-05-20","2019-05-21","2019-05-22","2019-05-23","2019-05-24","2019-05-27","2019-05-28","2019-05-29","2019-05-30","2019-05-31","2019-06-03","2019-06-04","2019-06-05","2019-06-06","2019-06-07","2019-06-10","2019-06-11","2019-06-12","2019-06-13","2019-06-14","2019-06-17","2019-06-18","2019-06-19"]},
"axis":{"title":null,"labelAngle":0,"labelOverlap":false,"labelPadding":1,"tickSize":3,
"values":["2018-12-10","2018-12-13","2018-12-18","2018-12-21","2018-12-27","2019-01-02","2019-01-07","2019-01-10","2019-01-15","2019-01-18","2019-01-23","2019-01-28","2019-02-01","2019-02-05","2019-02-08","2019-02-13","2019-02-19","2019-02-21","2019-02-26","2019-03-01","2019-03-06","2019-03-11","2019-03-14","2019-03-19","2019-03-22","2019-03-27","2019-04-01","2019-04-04","2019-04-09","2019-04-12","2019-04-17","2019-04-23","2019-04-26","2019-05-01","2019-05-06","2019-05-09","2019-05-14","2019-05-17","2019-05-22","2019-05-27","2019-05-30","2019-06-03","2019-06-07","2019-06-12","2019-06-17"],
"labelExpr":"datum.value == '2019-01-02' ? '2019' : datum.value == '2019-02-01' ? 'feb' : datum.value == '2019-03-01' ? 'mar' : datum.value == '2019-04-01' ? 'abr' : datum.value == '2019-05-01' ? 'may' : datum.value == '2019-06-03' ? 'jun' : slice(datum.value, 8)",
"labelFontWeight":{"condition":{"test":"indexof(['2019-01-02','2019-02-01','2019-03-01','2019-04-01','2019-05-01','2019-06-03'], datum.value) >= 0","value":"bold"},"value":"normal"}}},
"y":{"field":"macd","type":"quantitative","scale":{"domain":[-71,51.5],"nice":false,"zero":false},
"axis":{"orient":"right","title":null,"labels":false,"values":[40,20,4.7032,-11.588,-16.291,-40,-60]}}}},
{"data":{"name":"ylab"},"transform":[{"filter":"datum.p == 'macd' && datum.v != -11.588 && datum.v != -16.291"}],
"mark":{"type":"text","align":"left","baseline":"middle","dx":8,"fontSize":6.5},
"encoding":{"x":{"field":"d","type":"ordinal","scale":{"type":"band","paddingInner":0,"paddingOuter":0}},"y":{"field":"v","type":"quantitative"},"text":{"field":"t"},
"color":{"field":"k","type":"nominal","legend":null,"scale":{"domain":["n","r","g","dg","cur","b"],"range":["#333333","#e03c3c","#3cb043","#2a6e2a","#000000","#4a4ad8"]}}}},
{"data":{"name":"ylab"},"transform":[{"filter":"datum.p == 'macd' && datum.v == -11.588"}],
"mark":{"type":"text","align":"left","baseline":"bottom","dx":8,"fontSize":6.5,"color":"#4a4ad8"},
"encoding":{"x":{"field":"d","type":"ordinal","scale":{"type":"band","paddingInner":0,"paddingOuter":0}},"y":{"field":"v","type":"quantitative"},"text":{"field":"t"}}},
{"data":{"name":"ylab"},"transform":[{"filter":"datum.p == 'macd' && datum.v == -16.291"}],
"mark":{"type":"text","align":"left","baseline":"top","dx":8,"dy":1,"fontSize":6.5,"color":"#e03c3c"},
"encoding":{"x":{"field":"d","type":"ordinal","scale":{"type":"band","paddingInner":0,"paddingOuter":0}},"y":{"field":"v","type":"quantitative"},"text":{"field":"t"}}}
]
}
]
}
